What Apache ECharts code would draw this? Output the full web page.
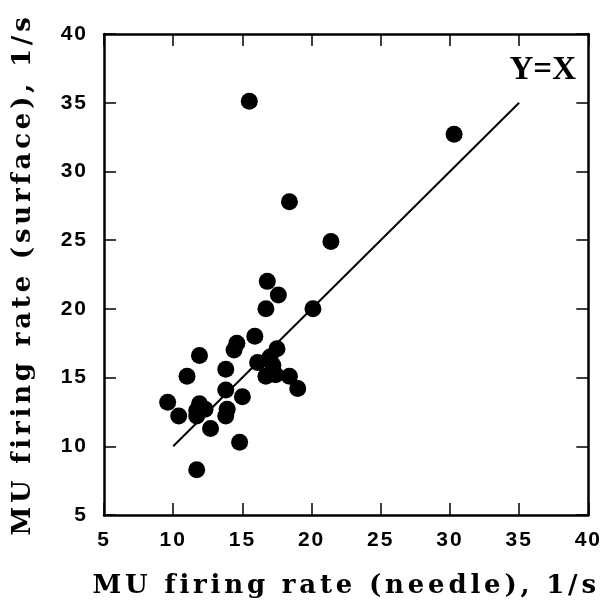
<!DOCTYPE html>
<html>
<head>
<meta charset="utf-8">
<script src="https://cdn.jsdelivr.net/npm/echarts@6/dist/echarts.min.js"></script>
<style>html,body{margin:0;padding:0;background:#fff}#c{width:603px;height:604px}</style>
</head>
<body>
<div id="c"></div>
<script>
// Data
const needleRate = [15.5, 30.3, 18.4, 21.4, 16.8, 17.6, 16.7, 20.1, 15.9, 14.6, 14.4, 17.5, 11.9, 16.1, 17.0, 17.2, 13.8, 11.0, 16.7, 17.4, 18.4, 19.0, 13.8, 15.0, 9.6, 10.4, 11.9, 11.7, 12.3, 11.7, 13.9, 13.8, 12.7, 14.8, 11.7];
const surfaceRate = [35.1, 32.7, 27.8, 24.9, 22.0, 21.0, 20.0, 20.0, 18.0, 17.5, 17.0, 17.1, 16.6, 16.1, 16.5, 15.9, 15.6, 15.1, 15.1, 15.2, 15.1, 14.2, 14.1, 13.6, 13.2, 12.2, 13.1, 12.6, 12.7, 12.2, 12.7, 12.2, 11.3, 10.3, 8.3];
const identityLine = [10, 35];
const axisMin = 5, axisMax = 40, axisStep = 5;
const xTitle = 'MU firing rate (needle), 1/s';
const yTitle = 'MU firing rate (surface), 1/s';
const lineLabel = 'Y=X';

// widen letter spacing for the old-style typeset titles / tick labels
(function () {
  const P = CanvasRenderingContext2D.prototype;
  const orig = P.fillText;
  P.fillText = function (t, x, y, m) {
    const f = this.font || '';
    const prev = this.letterSpacing;
    if (f.indexOf('DejaVu Serif') >= 0) this.letterSpacing = '3.8px';
    else if (f.indexOf('Liberation Sans') >= 0) this.letterSpacing = '2px';
    const r = m === undefined ? orig.call(this, t, x, y) : orig.call(this, t, x, y, m);
    if (prev !== undefined) this.letterSpacing = prev;
    return r;
  };
})();

const points = needleRate.map((x, i) => [x, surfaceRate[i]]);
const linePts = identityLine.map(v => [v, v]);

const tickFont = {color: '#000', fontFamily: 'Liberation Sans', fontWeight: 'bold', fontSize: 21};
const titleFont = {color: '#000', fontFamily: 'DejaVu Serif', fontWeight: 'bold', fontSize: 26};
const lineSty = {color: '#000', width: 2.5};

function mkAxis(extra) {
  return Object.assign({
    type: 'value', min: axisMin, max: axisMax, interval: axisStep,
    axisLine: {show: true, onZero: false, lineStyle: lineSty},
    axisTick: {show: true, inside: true, length: 12, lineStyle: {color: '#000', width: 1.5}},
    splitLine: {show: false}
  }, extra);
}

const chart = echarts.init(document.getElementById('c'));
chart.setOption({
  animation: false,
  backgroundColor: '#fff',
  grid: {left: 104, right: 14, top: 34, bottom: 86},
  xAxis: [
    mkAxis({position: 'bottom', name: xTitle, nameLocation: 'middle', nameGap: 58,
      nameTextStyle: titleFont, axisLabel: Object.assign({margin: 15}, tickFont)}),
    mkAxis({position: 'top', axisLabel: {show: false}})
  ],
  yAxis: [
    mkAxis({position: 'left', name: yTitle, nameLocation: 'middle', nameGap: 68,
      nameTextStyle: titleFont, axisLabel: Object.assign({margin: 16}, tickFont)}),
    mkAxis({position: 'right', axisLabel: {show: false}})
  ],
  graphic: [{
    type: 'text', right: 27, top: 54,
    style: {text: lineLabel, fill: '#000', font: 'bold 33px "Liberation Serif"'}
  }],
  series: [
    {type: 'line', data: linePts, symbol: 'none', lineStyle: {color: '#000', width: 2}, z: 1},
    {type: 'scatter', data: points, symbol: 'circle', symbolSize: 17, itemStyle: {color: '#000', opacity: 1}, z: 2}
  ]
});
</script>
</body>
</html>
